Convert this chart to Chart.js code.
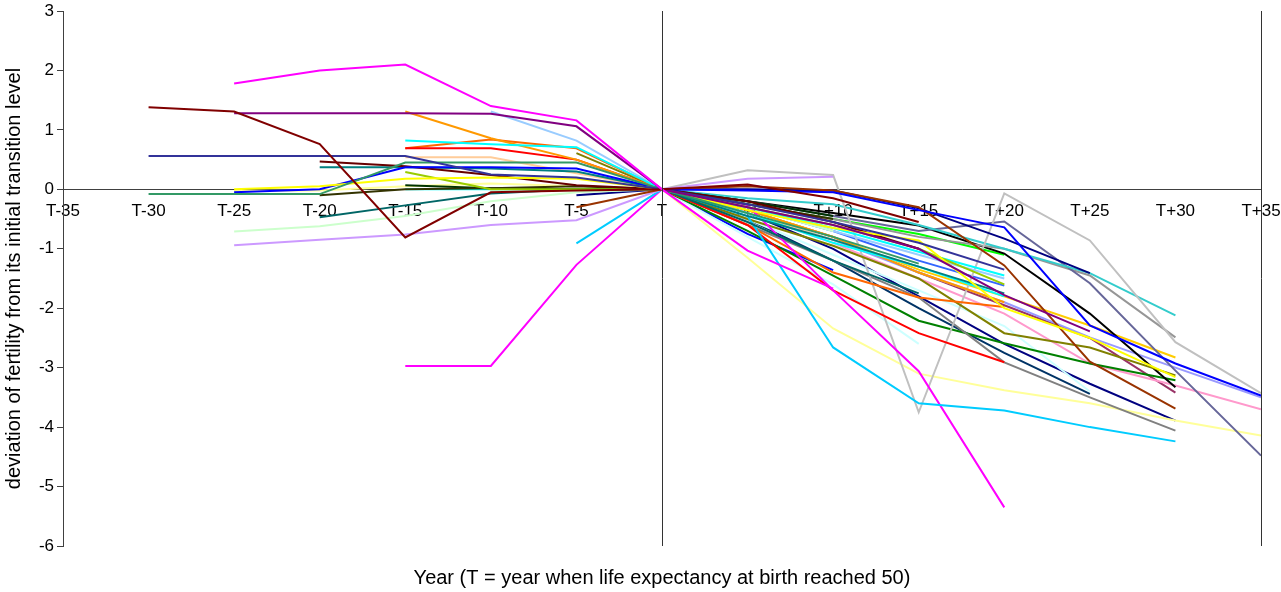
<!DOCTYPE html>
<html>
<head>
<meta charset="utf-8">
<script src="https://cdn.jsdelivr.net/npm/chart.js@4/dist/chart.umd.min.js"></script>
<style>
  html, body { margin: 0; padding: 0; background: #ffffff; }
  #wrap { width: 1281px; height: 592px; }
</style>
</head>
<body>
<div id="wrap"><canvas id="c" width="1281" height="592"></canvas></div>
<script>
// Years relative to T (the year life expectancy at birth reached 50)
const years = [-35, -30, -25, -20, -15, -10, -5, 0, 5, 10, 15, 20, 25, 30, 35];
const tickLabels = ['T-35', 'T-30', 'T-25', 'T-20', 'T-15', 'T-10', 'T-5', 'T',
                    'T+5', 'T+10', 'T+15', 'T+20', 'T+25', 'T+30', 'T+35'];

// Deviation of total fertility from its level at T, one array per country
const c01 = [null, null, 1.78, 2.00, 2.10, 1.40, 1.16, 0, -1.03, -1.67, null, null, null, null, null];
const c02 = [null, 1.38, 1.31, 0.76, -0.81, -0.05, -0.02, 0, 0.08, -0.15, -0.55, null, null, null, null];
const c03 = [null, null, 1.28, 1.28, 1.28, 1.27, 1.06, 0, -0.30, -0.60, -1.00, -1.78, -2.39, null, null];
const c04 = [null, 0.56, 0.56, 0.56, 0.56, 0.25, 0.20, 0, -0.25, -0.55, -0.90, -1.35, null, null, null];
const c05 = [null, -0.08, -0.08, -0.08, 0.45, 0.45, 0.45, 0, -0.40, -0.80, -1.25, null, null, null, null];
const c06 = [null, null, 0.00, 0.05, 0.18, 0.20, 0.18, 0, -0.35, -0.65, -0.86, -2.00, -2.50, -3.16, null];
const c07 = [null, null, -0.05, 0.00, 0.37, 0.37, 0.35, 0, -0.02, -0.05, -0.35, -0.64, -2.29, -2.93, -3.47];
const c08 = [null, null, null, null, null, null, -0.30, 0, 0.05, -0.02, -0.30, -1.28, -2.90, -3.69, null];
const c09 = [null, null, null, 0.47, 0.39, 0.24, 0.07, 0, -0.20, -0.55, -1.00, null, null, null, null];
const c10 = [null, null, null, 0.37, 0.37, 0.35, 0.30, 0, -0.45, -0.85, -1.30, -1.75, null, null, null];
const c11 = [null, null, null, null, 0.29, 0.00, 0.00, 0, -0.30, -0.60, -1.00, -1.60, null, null, null];
const c12 = [null, null, null, -0.10, 0.00, 0.02, 0.05, 0, -0.25, -0.50, null, null, null, null, null];
const c13 = [null, null, null, null, 0.07, 0.02, 0.00, 0, -0.20, -0.45, null, null, null, null, null];
const c14 = [null, null, null, null, 0.82, 0.76, 0.71, 0, -0.30, -0.65, -1.05, -1.45, null, null, null];
const c15 = [null, null, null, null, 0.00, 0.00, 0.00, 0, -0.40, -0.90, -1.30, -1.80, null, null, null];
const c16 = [null, null, null, -0.47, -0.27, -0.07, 0.00, 0, -0.55, -1.20, -1.75, null, null, null, null];
const c17 = [null, null, -0.71, -0.62, -0.45, -0.20, -0.05, 0, -0.30, -0.70, null, null, null, null, null];
const c18 = [null, null, -0.94, -0.85, -0.76, -0.60, -0.52, 0, 0.18, 0.21, null, null, null, null, null];
const c19 = [null, null, null, null, null, null, -0.91, 0, -0.45, -2.66, -3.60, -3.72, -4.00, -4.24, null];
const c20 = [null, null, null, null, -2.97, -2.97, -1.27, 0, -0.27, -1.70, -3.06, -5.35, null, null, null];
const c21 = [null, null, null, null, null, null, -0.10, 0, 0.00, -0.02, -0.32, -0.83, -1.41, null, null];
const c22 = [null, null, null, null, 1.31, 0.86, 0.50, 0, -0.35, -0.80, -1.40, -1.90, null, null, null];
const c23 = [null, null, null, null, null, 1.31, 0.82, 0, -0.30, -0.70, -1.10, -1.50, null, null, null];
const c24 = [null, null, null, null, 0.69, 0.69, 0.50, 0, -0.60, -1.70, -2.42, -2.91, null, null, null];
const c25 = [null, null, null, null, 0.69, 0.84, 0.69, 0, -0.60, -1.40, -1.82, -1.98, null, null, null];
const c26 = [null, null, null, null, 0.54, 0.54, 0.27, 0, -0.40, -0.85, -1.30, null, null, null, null];
const c27 = [null, null, null, null, null, null, 0.61, 0, -0.50, -0.95, -1.50, -2.42, -2.66, -3.13, null];
const c28 = [null, null, null, null, null, null, null, 0, 0.32, 0.24, -3.75, -0.07, -0.86, -2.57, -3.43];
const c29 = [null, null, null, null, null, null, null, 0, -0.15, -0.25, -0.60, -1.00, -1.41, -2.12, null];
const c30 = [null, null, null, null, null, null, null, 0, -0.20, -0.45, -0.70, -0.54, -1.58, -3.05, -4.48];
const c31 = [null, null, null, null, null, null, null, 0, -0.25, -0.50, -0.80, -1.00, -1.45, -2.49, null];
const c32 = [null, null, null, null, null, null, null, 0, -0.60, -1.20, -1.82, -2.91, -3.50, -4.06, null];
const c33 = [null, null, null, null, null, null, null, 0, -0.20, -0.40, -0.61, -1.08, -2.09, -3.33, null];
const c34 = [null, null, null, null, null, null, null, 0, -0.25, -0.50, -0.75, -1.10, null, null, null];
const c35 = [null, null, null, null, null, null, null, 0, -0.70, -1.45, -2.21, -2.59, -2.93, -3.21, null];
const c36 = [null, null, -0.03, -0.02, 0.05, 0.10, 0.05, 0, -1.15, -2.34, -3.10, -3.38, -3.60, -3.89, -4.14];
const c37 = [null, null, null, null, null, null, null, 0, -0.80, -1.60, -2.60, null, null, null, null];
const c38 = [null, null, null, null, null, null, null, 0, -0.50, -1.10, -1.70, -2.30, -3.40, null, null];
const c39 = [null, null, null, null, null, null, null, 0, -0.35, -0.80, -1.35, -1.80, -2.29, -2.83, null];
const c40 = [null, null, null, null, null, null, null, 0, -0.40, -0.85, -1.40, -1.90, -2.49, -3.00, -3.50];
const c41 = [null, null, null, null, null, null, null, 0, -0.40, -0.90, -1.50, -2.09, -2.93, -3.30, -3.70];
const c42 = [null, null, null, null, null, null, null, 0, -0.35, -0.80, -1.40, -1.95, -2.50, -3.42, null];
const c43 = [null, null, null, null, null, null, null, 0, -0.40, -1.00, -1.80, -2.60, -3.27, -3.89, null];
const c44 = [null, null, null, null, null, null, null, 0, -0.50, -1.20, -2.00, -2.75, -3.44, null, null];
const c45 = [null, null, null, null, null, null, null, 0, -0.75, -1.36, null, null, null, null, null];
const c46 = [null, null, null, null, null, null, null, 0, -0.30, -0.70, -1.20, -1.62, null, null, null];

const seriesData = [c01, c02, c03, c04, c05, c06, c07, c08, c09, c10, c11, c12, c13, c14, c15, c16,
                    c17, c18, c19, c20, c21, c22, c23, c24, c25, c26, c27, c28, c29, c30, c31, c32,
                    c33, c34, c35, c36, c37, c38, c39, c40, c41, c42, c43, c44, c45, c46];

// Line colours, in the same order as seriesData
const seriesColors = ['#FF00FF', '#800000', '#800080', '#333399', '#339966', '#FFFF00', '#0000FF', '#993300',
                      '#660000', '#008080', '#99CC00', '#333300', '#003300', '#00FFFF', '#00FFFF', '#006666',
                      '#CCFFCC', '#CC99FF', '#00CCFF', '#FF00FF', '#000080', '#FF9900', '#99CCFF', '#FF0000',
                      '#FF6600', '#FFCC99', '#808000', '#C0C0C0', '#33CCCC', '#666699', '#969696', '#808080',
                      '#000000', '#00FF00', '#008000', '#FFFF99', '#CCFFFF', '#CCFFFF', '#FFCC00', '#9999FF',
                      '#FF99CC', '#993366', '#000080', '#003366', '#0000FF', '#3366FF'];

const datasets = seriesData.map((vals, i) => ({
  label: 'country ' + (i + 1),
  data: years.map((yr, k) => ({ x: yr, y: vals[k] })),
  borderColor: seriesColors[i],
  backgroundColor: seriesColors[i],
  borderWidth: 2,
  pointRadius: 0,
  pointHoverRadius: 0,
  tension: 0,
  spanGaps: false,
  fill: false
}));

// Vertical reference lines at T and at the right end of the period
const markerLines = {
  id: 'markerLines',
  afterDatasetsDraw(chart) {
    const { ctx, chartArea, scales } = chart;
    ctx.save();
    ctx.strokeStyle = '#333333';
    ctx.lineWidth = 1;
    [0, 35].forEach(v => {
      const px = Math.round(scales.x.getPixelForValue(v)) + 0.5;
      ctx.beginPath();
      ctx.moveTo(px, chartArea.top);
      ctx.lineTo(px, chartArea.bottom);
      ctx.stroke();
    });
    ctx.restore();
  }
};

const FONT = '"Liberation Sans", Arial, sans-serif';

new Chart(document.getElementById('c'), {
  type: 'line',
  data: { datasets },
  plugins: [markerLines],
  options: {
    responsive: false,
    animation: false,
    devicePixelRatio: 1,
    layout: { padding: { left: 0, right: 20, top: 11, bottom: 0 } },
    plugins: {
      legend: { display: false },
      tooltip: { enabled: false },
      title: {
        display: true,
        position: 'bottom',
        fullSize: false,
        text: 'Year (T = year when life expectancy at birth reached 50)',
        color: '#000000',
        font: { family: FONT, size: 20, weight: 'normal' },
        padding: { top: 20, bottom: 2 }
      }
    },
    scales: {
      x: {
        type: 'linear',
        position: { y: 0 },
        min: -35,
        max: 35,
        afterFit(scale) {
          scale.height = 0;
          scale.paddingLeft = 0;
          scale.paddingRight = 0;
        },
        grid: { display: true, drawOnChartArea: false, drawTicks: false },
        border: { display: true, color: '#404040', width: 1 },
        ticks: {
          stepSize: 5,
          autoSkip: false,
          maxRotation: 0,
          padding: 12,
          color: '#000000',
          font: { family: FONT, size: 17 },
          callback: (v) => tickLabels[years.indexOf(v)]
        }
      },
      y: {
        type: 'linear',
        position: 'left',
        min: -6,
        max: 3,
        afterFit(scale) {
          scale.width = 63;
          scale.paddingTop = 0;
          scale.paddingBottom = 0;
        },
        grid: { display: true, drawOnChartArea: false, drawTicks: true, tickLength: 6, color: '#404040' },
        border: { display: true, color: '#404040', width: 1 },
        ticks: {
          stepSize: 1,
          padding: 3,
          color: '#000000',
          font: { family: FONT, size: 17 }
        },
        title: {
          display: true,
          text: 'deviation of fertility from its initial transition level',
          color: '#000000',
          font: { family: FONT, size: 20 },
          padding: { top: 2, bottom: 0 }
        }
      }
    }
  }
});
</script>
</body>
</html>
